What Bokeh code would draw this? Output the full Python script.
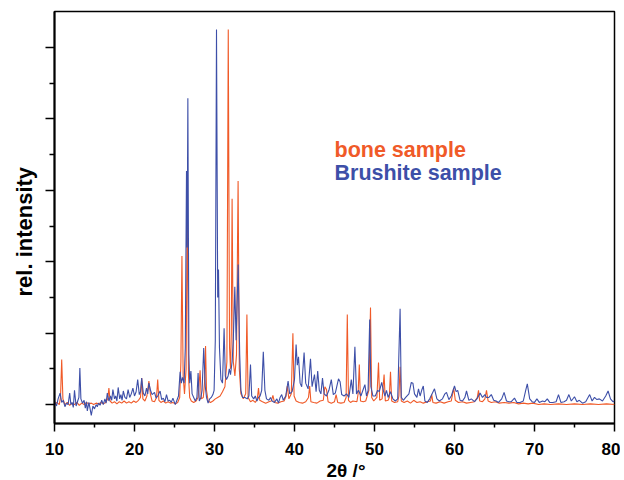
import math
from bokeh.plotting import figure
from bokeh.models import FixedTicker, Range1d, Label, Title
from bokeh.embed import file_html
from bokeh.resources import INLINE

# ---- data (2theta in degrees, relative intensity) ----
brushite_x = [10.0, 10.25, 10.45, 10.7, 10.9, 11.1, 11.3, 11.5, 11.7, 11.9, 12.05, 12.2, 12.35, 12.5, 12.7,
              12.9, 13.05, 13.17, 13.3, 13.5, 13.7, 13.85, 14.0, 14.1, 14.3, 14.45, 14.6, 14.8, 15.0, 15.2,
              15.35, 15.5, 15.7, 15.9, 16.1, 16.3, 16.45, 16.6, 16.8, 17.0, 17.15, 17.3, 17.5, 17.65, 17.8,
              17.96, 18.15, 18.3, 18.45, 18.6, 18.8, 19.0, 19.2, 19.4, 19.6, 19.8, 20.0, 20.2, 20.4, 20.6,
              20.75, 20.9, 21.1, 21.3, 21.5, 21.65, 21.8, 22.0, 22.2, 22.5, 22.7, 22.9, 23.2, 23.4, 23.6,
              23.8, 24.0, 24.2, 24.4, 24.6, 24.8, 25.1, 25.3, 25.5, 25.7, 25.85, 26.0, 26.2, 26.35, 26.5,
              26.58, 26.67, 26.8, 26.9, 27.05, 27.2, 27.4, 27.6, 27.8, 27.95, 28.1, 28.3, 28.45, 28.65, 28.85,
              29.0, 29.2, 29.4, 29.6, 29.8, 29.95, 30.1, 30.25, 30.4, 30.5, 30.62, 30.8, 31.0, 31.2, 31.35,
              31.5, 31.7, 31.85, 32.0, 32.2, 32.35, 32.54, 32.7, 32.96, 33.15, 33.3, 33.5, 33.8, 34.1, 34.3,
              34.5, 34.65, 34.9, 35.1, 35.3, 35.5, 35.7, 35.9, 36.1, 36.3, 36.5, 36.8, 37.0, 37.2, 37.5,
              37.8, 38.0, 38.2, 38.4, 38.6, 38.9, 39.2, 39.4, 39.7, 40.0, 40.2, 40.35, 40.5, 40.7, 40.9,
              41.2, 41.4, 41.7, 42.0, 42.2, 42.5, 42.7, 42.9, 43.1, 43.3, 43.5, 43.7, 44.0, 44.3, 44.6,
              44.85, 45.1, 45.5, 45.7, 45.9, 46.2, 46.5, 46.8, 47.1, 47.3, 47.55, 47.75, 48.0, 48.3, 48.55,
              48.8, 49.0, 49.2, 49.4, 49.55, 49.8, 50.1, 50.4, 50.6, 50.9, 51.1, 51.3, 51.5, 51.7, 52.0,
              52.3, 52.6, 52.9, 53.2, 53.35, 53.6, 53.9, 54.3, 54.6, 54.8, 55.0, 55.3, 55.5, 55.7, 55.9,
              56.1, 56.3, 56.6, 56.9, 57.2, 57.5, 57.8, 58.1, 58.5, 58.8, 59.0, 59.3, 59.6, 60.0, 60.2,
              60.4, 60.7, 61.0, 61.3, 61.5, 61.8, 62.1, 62.5, 62.8, 63.2, 63.5, 63.8, 64.0, 64.3, 64.6,
              64.9, 65.2, 65.5, 65.9, 66.2, 66.5, 66.8, 67.1, 67.5, 67.8, 68.2, 68.6, 68.9, 69.1, 69.4,
              69.7, 70.0, 70.3, 70.6, 71.0, 71.3, 71.6, 71.9, 72.3, 72.7, 73.0, 73.3, 73.7, 74.0, 74.3,
              74.6, 75.0, 75.3, 75.6, 76.0, 76.4, 76.9, 77.2, 77.5, 77.8, 78.1, 78.5, 78.9, 79.2, 79.5,
              79.8, 80.0]
brushite_y = [0.05, -0.02, 0.08, 0.16, 0.03, 0.06, -0.03, 0.02, 0.0, 0.16, 0.0, 0.03, -0.04, 0.2, -0.02,
              0.05, 0.1, 0.51, 0.08, 0.02, 0.06, -0.05, 0.04, -0.09, 0.03, -0.06, -0.15, -0.02, -0.06, 0.0,
              -0.03, 0.02, -0.01, 0.06, 0.0, 0.08, 0.02, 0.16, 0.05, 0.12, 0.06, 0.21, 0.08, 0.12, 0.05,
              0.24, 0.08, 0.14, 0.06, 0.19, 0.1, 0.08, 0.21, 0.1, 0.15, 0.23, 0.12, 0.18, 0.35, 0.14,
              0.18, 0.37, 0.16, 0.12, 0.23, 0.15, 0.3, 0.2, 0.14, 0.17, 0.09, 0.12, 0.19, 0.07, 0.09,
              0.04, 0.14, 0.05, 0.06, 0.03, 0.09, 0.0, 0.06, 0.12, 0.46, 0.3, 0.38, 0.3, 0.8, 3.27,
              2.2, 4.29, 0.7, 0.3, 0.47, 0.15, 0.1, 0.05, 0.1, 0.44, 0.05, 0.1, 0.2, 0.79, 0.25,
              0.1, 0.02, 0.08, 0.1, 0.14, 0.2, 0.9, 5.25, 1.5, 1.89, 0.8, 0.35, 0.3, 1.07, 0.4,
              0.35, 0.4, 0.5, 0.42, 0.6, 0.9, 1.65, 0.9, 1.96, 0.7, 0.2, 0.1, 0.1, 0.08, 0.12,
              0.56, 0.12, 0.08, 0.12, 0.05, 0.1, 0.12, 0.2, 0.74, 0.2, 0.08, 0.06, 0.1, 0.05, 0.03,
              0.08, 0.02, 0.1, 0.14, 0.06, 0.12, 0.33, 0.15, 0.18, 0.35, 0.84, 0.55, 0.67, 0.3, 0.25,
              0.73, 0.3, 0.22, 0.64, 0.25, 0.42, 0.18, 0.47, 0.2, 0.15, 0.37, 0.15, 0.12, 0.2, 0.35,
              0.14, 0.16, 0.36, 0.32, 0.14, 0.12, 0.15, 0.1, 0.35, 0.15, 0.81, 0.15, 0.2, 0.12, 0.2,
              0.28, 0.12, 0.2, 1.19, 0.25, 0.12, 0.12, 0.2, 0.18, 0.31, 0.2, 0.12, 0.2, 0.1, 0.18,
              0.08, 0.05, 0.08, 1.34, 0.1, 0.06, 0.1, 0.15, 0.31, 0.3, 0.15, 0.1, 0.22, 0.12, 0.2,
              0.26, 0.05, 0.03, 0.08, 0.15, 0.22, 0.08, 0.05, 0.08, 0.15, 0.17, 0.07, 0.12, 0.26, 0.18,
              0.2, 0.06, 0.05, 0.1, 0.19, 0.06, 0.08, 0.04, 0.08, 0.16, 0.1, 0.14, 0.1, 0.1, 0.14,
              0.06, 0.05, 0.03, 0.08, 0.17, 0.05, 0.04, 0.04, 0.09, 0.03, 0.03, 0.05, 0.2, 0.29, 0.08,
              0.04, 0.03, 0.08, 0.03, 0.05, 0.04, 0.08, 0.03, 0.03, 0.04, 0.14, 0.03, 0.04, 0.06, 0.14,
              0.05, 0.11, 0.04, 0.06, 0.02, 0.04, 0.14, 0.05, 0.1, 0.07, 0.08, 0.05, 0.12, 0.19, 0.08,
              0.04, 0.05]

bone_x = [10.0, 10.3, 10.6, 10.75, 10.9, 11.05, 11.3, 11.6, 11.9, 12.2, 12.5, 12.8, 13.1, 13.4, 13.7,
          14.0, 14.3, 14.6, 14.9, 15.2, 15.5, 15.8, 16.1, 16.4, 16.65, 16.8, 16.95, 17.2, 17.5, 17.8,
          18.1, 18.4, 18.7, 19.0, 19.3, 19.6, 19.9, 20.2, 20.5, 20.75, 20.9, 21.05, 21.3, 21.55, 21.8,
          22.0, 22.2, 22.5, 22.75, 22.9, 23.05, 23.3, 23.6, 23.9, 24.2, 24.5, 24.8, 25.1, 25.4, 25.65,
          25.8, 25.93, 26.08, 26.25, 26.45, 26.6, 26.75, 26.9, 27.1, 27.4, 27.7, 27.95, 28.2, 28.35, 28.6,
          28.75, 28.88, 29.0, 29.2, 29.5, 29.8, 30.1, 30.4, 30.7, 31.0, 31.3, 31.55, 31.72, 31.88, 32.0,
          32.1, 32.2, 32.35, 32.55, 32.75, 32.95, 33.1, 33.3, 33.6, 33.9, 34.05, 34.2, 34.5, 34.8, 35.1,
          35.35, 35.5, 35.65, 36.0, 36.4, 36.8, 37.1, 37.3, 37.5, 37.9, 38.3, 38.7, 38.95, 39.1, 39.3,
          39.6, 39.8, 39.95, 40.2, 40.6, 41.0, 41.4, 41.75, 41.9, 42.05, 42.4, 42.8, 43.2, 43.6, 43.8,
          44.0, 44.2, 44.6, 45.0, 45.2, 45.4, 45.8, 46.2, 46.45, 46.6, 46.75, 47.0, 47.3, 47.8, 47.95,
          48.1, 48.25, 48.6, 48.9, 49.3, 49.5, 49.65, 49.9, 50.3, 50.5, 50.65, 50.95, 51.2, 51.35, 51.7,
          51.85, 52.0, 52.15, 52.5, 52.9, 53.05, 53.2, 53.35, 53.7, 54.1, 54.5, 54.9, 55.3, 55.7, 56.1,
          56.6, 57.0, 57.15, 57.3, 57.7, 58.2, 58.7, 59.2, 59.6, 59.9, 60.1, 60.5, 61.0, 61.5, 62.0,
          62.5, 62.85, 63.0, 63.15, 63.5, 63.8, 64.0, 64.2, 64.6, 65.1, 65.6, 66.2, 66.8, 67.4, 68.0,
          68.6, 69.2, 69.8, 70.5, 71.2, 72.0, 73.0, 74.0, 75.0, 76.0, 77.0, 78.0, 79.0, 80.0]
bone_y = [0.0, 0.03, 0.0, 0.1, 0.63, 0.08, 0.0, 0.03, -0.01, 0.02, 0.0, 0.03, -0.01, 0.02, 0.0,
          0.03, 0.01, 0.02, 0.0, 0.02, 0.01, 0.03, 0.01, 0.03, 0.08, 0.23, 0.05, 0.02, 0.04, 0.01,
          0.04, 0.02, 0.05, 0.02, 0.04, 0.02, 0.05, 0.03, 0.06, 0.1, 0.37, 0.08, 0.05, 0.12, 0.33,
          0.14, 0.05, 0.04, 0.1, 0.35, 0.06, 0.03, 0.05, 0.02, 0.04, 0.02, 0.03, 0.01, 0.03, 0.1,
          0.6, 2.08, 0.4, 0.15, 0.5, 2.88, 0.4, 0.1, 0.05, 0.03, 0.05, 0.1, 0.48, 0.08, 0.1,
          0.3, 0.82, 0.2, 0.05, 0.03, 0.05, 0.08, 0.1, 0.12, 0.18, 0.25, 0.6, 5.25, 0.8, 0.5,
          1.0, 2.88, 0.6, 0.4, 0.7, 3.13, 0.5, 0.15, 0.08, 0.15, 1.26, 0.1, 0.04, 0.06, 0.03,
          0.08, 0.23, 0.06, 0.04, 0.02, 0.04, 0.05, 0.13, 0.03, 0.02, 0.04, 0.05, 0.12, 0.26, 0.08,
          0.15, 1.0, 0.12, 0.05, 0.03, 0.02, 0.04, 0.1, 0.26, 0.04, 0.03, 0.02, 0.05, 0.06, 0.25,
          0.21, 0.04, 0.02, 0.04, 0.14, 0.03, 0.02, 0.03, 0.1, 1.26, 0.06, 0.03, 0.05, 0.04, 0.15,
          0.56, 0.05, 0.04, 0.05, 0.2, 1.36, 0.1, 0.05, 0.1, 0.59, 0.06, 0.08, 0.42, 0.05, 0.06,
          0.1, 0.46, 0.05, 0.03, 0.04, 0.12, 0.53, 0.05, 0.03, 0.05, 0.02, 0.06, 0.03, 0.04, 0.02,
          0.04, 0.05, 0.14, 0.03, 0.02, 0.04, 0.02, 0.04, 0.05, 0.23, 0.06, 0.03, 0.04, 0.02, 0.03,
          0.04, 0.1, 0.2, 0.05, 0.04, 0.08, 0.2, 0.05, 0.03, 0.04, 0.02, 0.03, 0.02, 0.03, 0.01,
          0.02, 0.01, 0.02, 0.0, 0.01, 0.0, 0.01, 0.0, 0.01, 0.0, 0.01, 0.0, 0.01, 0.0]

x_ticks = [10, 20, 30, 40, 50, 60, 70, 80]
x_minor_ticks = [15, 25, 35, 45, 55, 65, 75]
y_ticks = [0, 1, 2, 3, 4, 5]
y_minor_ticks = [0.5, 1.5, 2.5, 3.5, 4.5]
series_names = ["bone sample", "Brushite sample"]
x_title = "2θ /°"
y_title = "rel. intensity"
orange = "#F05A28"
blue = "#3D4FA8"
FONT = "Liberation Sans"

p = figure(width=620, height=480, output_backend="svg", toolbar_location=None,
           x_range=Range1d(10, 80), y_range=Range1d(-0.265, 5.503),
           min_border_left=53, min_border_right=6, min_border_top=11, min_border_bottom=56)
p.grid.visible = False
p.background_fill_color = "white"
p.border_fill_color = "white"
p.outline_line_color = "black"
p.outline_line_width = 1.5

p.line(bone_x, bone_y, line_color=orange, line_width=1.1)
p.line(brushite_x, brushite_y, line_color=blue, line_width=1.1)

# x axis
xa = p.xaxis[0]
xa.ticker = FixedTicker(ticks=x_ticks, minor_ticks=x_minor_ticks)
xa.axis_line_width = 2
xa.major_tick_line_width = 1.5
xa.minor_tick_line_width = 1.5
xa.major_tick_out = 8
xa.major_tick_in = 0
xa.minor_tick_out = 4
xa.minor_tick_in = 0
xa.major_label_text_font = FONT
xa.major_label_text_font_style = "bold"
xa.major_label_text_font_size = "17px"
xa.major_label_text_color = "black"
xa.major_label_standoff = 11

# y axis (ticks only, no numbers)
ya = p.yaxis[0]
ya.ticker = FixedTicker(ticks=y_ticks, minor_ticks=y_minor_ticks)
ya.axis_line_width = 2
ya.major_tick_line_width = 1.5
ya.minor_tick_line_width = 1.5
ya.major_tick_out = 9
ya.major_tick_in = 0
ya.minor_tick_out = 5
ya.minor_tick_in = 0
ya.major_label_overrides = {t: "" for t in y_ticks}
ya.major_label_standoff = 0

# axis titles as side-panel titles (allows exact placement along the axis)
p.add_layout(Title(text=y_title, align="left", offset=127, standoff=18,
                   text_font=FONT, text_font_style="bold", text_font_size="22px",
                   text_color="black"), "left")
p.add_layout(Title(text=x_title, align="left", offset=272, standoff=0,
                   text_font=FONT, text_font_style="bold", text_font_size="19px",
                   text_color="black"), "below")

# legend texts
p.add_layout(Label(x=45.0, y=3.56, text=series_names[0], text_color=orange, text_font=FONT,
                   text_font_style="bold", text_font_size="21.5px", text_baseline="alphabetic"))
p.add_layout(Label(x=45.0, y=3.24, text=series_names[1], text_color=blue, text_font=FONT,
                   text_font_style="bold", text_font_size="21.5px", text_baseline="alphabetic"))

open("out.html", "w").write(file_html(p, INLINE))
